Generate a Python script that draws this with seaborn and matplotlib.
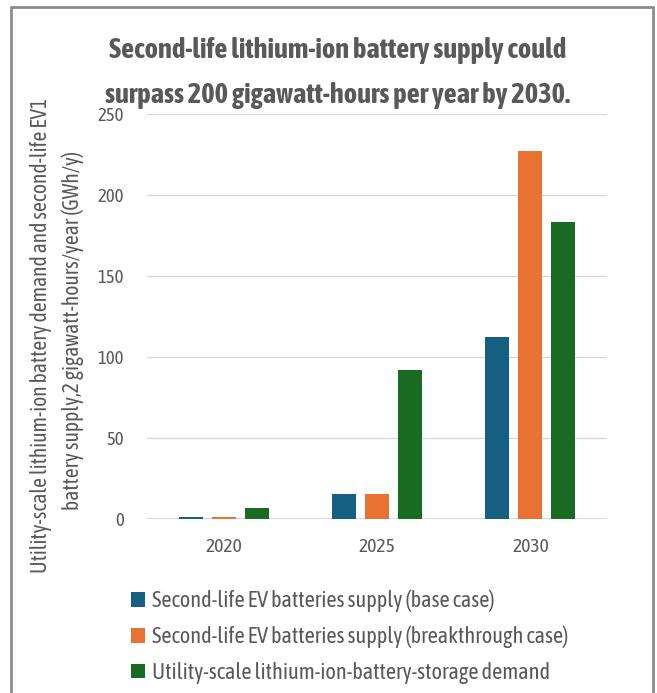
import matplotlib
matplotlib.use("Agg")
import matplotlib.pyplot as plt
from matplotlib.lines import Line2D
from matplotlib.patches import Patch
import pandas as pd
import seaborn as sns

# Data (GWh per year)
years = ["2020", "2025", "2030"]
series = [
    "Second-life EV batteries supply (base case)",
    "Second-life EV batteries supply (breakthrough case)",
    "Utility-scale lithium-ion-battery-storage demand",
]
base_case = [1, 15, 112]
breakthrough_case = [1, 15, 227]
storage_demand = [6.5, 92, 183]
colors = ["#156082", "#E97132", "#196B24"]
y_ticks = [0, 50, 100, 150, 200, 250]

title_lines = [
    "Second-life lithium-ion battery supply could",
    "surpass 200 gigawatt-hours per year by 2030.",
]
ylabel_lines = [
    "Utility-scale lithium-ion battery demand and second-life EV1",
    "battery supply,2 gigawatt-hours/year (GWh/y)",
]

df = pd.DataFrame({
    "year": years * 3,
    "series": [series[0]] * 3 + [series[1]] * 3 + [series[2]] * 3,
    "value": base_case + breakthrough_case + storage_demand,
})

sns.set_theme(style="white")
FONT = ["Asap Condensed", "DejaVu Sans"]
plt.rcParams["font.family"] = FONT
TEXT = "#595959"
GRID = "#D9D9D9"

W, H = 657, 693
fig = plt.figure(figsize=(W / 100, H / 100), dpi=100)
ax = fig.add_axes([147 / W, 1 - 518.5 / H, 460 / W, 404.5 / H])

sns.barplot(data=df, x="year", y="value", hue="series", order=years,
            hue_order=series, palette=colors, width=0.645, gap=0.27,
            linewidth=0, saturation=1, ax=ax, legend=False, zorder=3)

ax.set_ylim(0, 250)
ax.set_xlim(-0.5, 2.5)
ax.set_yticks(y_ticks)
ax.set_yticklabels([str(t) for t in y_ticks])
ax.set_xlabel("")
ax.set_ylabel("")
for s in ax.spines.values():
    s.set_visible(False)
ax.grid(axis="y", color=GRID, linewidth=1, zorder=0)
ax.grid(axis="x", visible=False)
ax.axhline(0, color=GRID, linewidth=2.2, zorder=2)
ax.tick_params(axis="y", length=0, pad=16.5, labelsize=13.5, labelcolor=TEXT)
ax.tick_params(axis="x", length=0, pad=14, labelsize=14, labelcolor=TEXT)

# Title
fig.text(338 / W, 1 - 58 / H, title_lines[0], ha="center", va="baseline",
         fontsize=20.5, fontweight="bold", color=TEXT)
fig.text(338 / W, 1 - 103 / H, title_lines[1], ha="center", va="baseline",
         fontsize=20.5, fontweight="bold", color=TEXT)

# Y-axis title, two lines
fig.text(41.5 / W, 1 - 335 / H, ylabel_lines[0], rotation=90, ha="center",
         va="center", fontsize=15.5, color=TEXT)
fig.text(73 / W, 1 - 330 / H, ylabel_lines[1], rotation=90, ha="center",
         va="center", fontsize=15.5, color=TEXT)

# Legend
handles = [Patch(facecolor=c, edgecolor="none") for c in colors]
fig.legend(handles, series, loc="upper left",
           bbox_to_anchor=(131 / W, 1 - 590 / H), frameon=False,
           fontsize=16, handlelength=0.63, handleheight=0.63,
           handletextpad=0.3, labelspacing=0.6, borderpad=0,
           borderaxespad=0, labelcolor=TEXT)

# Chart frame (open at the bottom)
frame = dict(color="#8C8C8C", linewidth=2, transform=fig.transFigure)
fig.add_artist(Line2D([11 / W, 11 / W], [0, 1 - 7 / H], **frame))
fig.add_artist(Line2D([11 / W, 653 / W], [1 - 7 / H, 1 - 7 / H], **frame))
fig.add_artist(Line2D([653 / W, 653 / W], [0, 1 - 7 / H], **frame))

fig.savefig("out.png", dpi=100)
